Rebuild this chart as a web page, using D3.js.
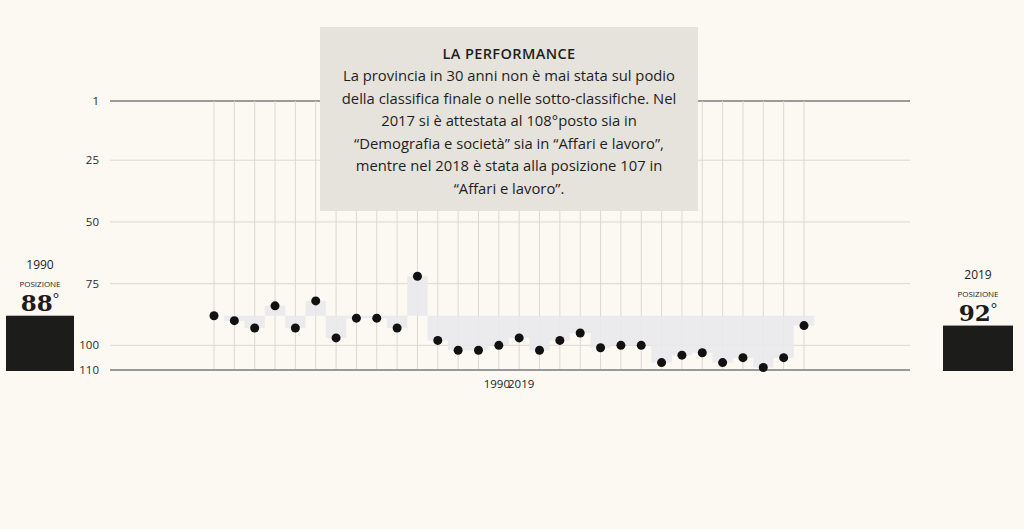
<!DOCTYPE html>
<html>
<head>
<meta charset="utf-8">
<script src="https://cdn.jsdelivr.net/npm/d3@7"></script>
<style>
  html, body { margin: 0; padding: 0; background: #fcf9f3; }
  svg { display: block; }
</style>
</head>
<body>
<div id="chart"></div>
<script>
const years = [1990, 1991, 1992, 1993, 1994, 1995, 1996, 1997, 1998, 1999,
               2000, 2001, 2002, 2003, 2004, 2005, 2006, 2007, 2008, 2009,
               2010, 2011, 2012, 2013, 2014, 2015, 2016, 2017, 2018, 2019];
const positions = [88, 90, 93, 84, 93, 82, 97, 89, 89, 93,
                   72, 98, 102, 102, 100, 97, 102, 98, 95, 101,
                   100, 100, 107, 104, 103, 107, 105, 109, 105, 92];
const yTicks = [1, 25, 50, 75, 100, 110];
const boxTitle = "LA PERFORMANCE";
const boxLines = [
    "La provincia in 30 anni non è mai stata sul podio",
    "della classifica finale o nelle sotto-classifiche. Nel",
    "2017 si è attestata al 108°posto sia in",
    "“Demografia e società” sia in “Affari e lavoro”,",
    "mentre nel 2018 è stata alla posizione 107 in",
    "“Affari e lavoro”."
];

const width = 1024, height = 529;
const sans = "'Open Sans', 'Noto Sans', sans-serif";

const svg = d3.select("#chart").append("svg")
    .attr("width", width)
    .attr("height", height);

const x = d3.scalePoint().domain(years).range([214, 804]);
const y = d3.scaleLinear().domain([1, 110]).range([101, 370]);
const step = x.step();

// horizontal grid
svg.append("g")
    .selectAll("line")
    .data(yTicks)
    .join("line")
    .attr("x1", 110)
    .attr("x2", 910)
    .attr("y1", d => y(d))
    .attr("y2", d => y(d))
    .attr("stroke", d => (d === 1 || d === 110) ? "#9a9a9a" : "#dcd8d0")
    .attr("stroke-width", d => (d === 1 || d === 110) ? 2 : 1);

// vertical grid
svg.append("g")
    .selectAll("line")
    .data(years)
    .join("line")
    .attr("x1", d => x(d))
    .attr("x2", d => x(d))
    .attr("y1", y(1))
    .attr("y2", y(110) - 1)
    .attr("stroke", "#dcd8d0")
    .attr("stroke-width", 1);

// y tick labels
svg.append("g")
    .selectAll("text")
    .data(yTicks)
    .join("text")
    .attr("x", 99)
    .attr("y", d => y(d))
    .attr("dy", "0.35em")
    .attr("text-anchor", "end")
    .attr("fill", "#2a2a2a")
    .style("font-family", sans)
    .style("font-size", "11.5px")
    .text(d => d);

// step area against the 1990 position
const base = positions[0];
const stepData = years.map((yr, i) => ({ x: x(yr) - step / 2, v: positions[i] }));
stepData.push({ x: x(years[years.length - 1]) + step / 2, v: positions[positions.length - 1] });

const area = d3.area()
    .curve(d3.curveStepAfter)
    .x(d => d.x)
    .y0(y(base))
    .y1(d => y(d.v));

svg.append("path")
    .datum(stepData)
    .attr("d", area)
    .attr("fill", "#e9e9ec")
    .attr("opacity", 0.9);

// dots
svg.append("g")
    .selectAll("circle")
    .data(years)
    .join("circle")
    .attr("cx", d => x(d))
    .attr("cy", (d, i) => y(positions[i]))
    .attr("r", 4.5)
    .attr("fill", "#111");

// x labels (collapsed on the middle, as in the original)
const mid = 510;
svg.append("text")
    .attr("x", mid)
    .attr("y", 388)
    .attr("text-anchor", "end")
    .attr("fill", "#222")
    .style("font-family", sans)
    .style("font-size", "11.5px")
    .text(years[0]);
svg.append("text")
    .attr("x", mid - 2)
    .attr("y", 388)
    .attr("text-anchor", "start")
    .attr("fill", "#222")
    .style("font-family", sans)
    .style("font-size", "11.5px")
    .text(years[years.length - 1]);

// side panels
function sidePanel(cx, x0, x1, yr, val, labelTop) {
    const g = svg.append("g");
    g.append("rect")
        .attr("x", x0)
        .attr("y", y(val))
        .attr("width", x1 - x0)
        .attr("height", y(110) + 1 - y(val))
        .attr("fill", "#1c1c1a");
    g.append("text")
        .attr("x", cx)
        .attr("y", labelTop)
        .attr("text-anchor", "middle")
        .attr("fill", "#222")
        .style("font-family", sans)
        .style("font-size", "12px")
        .text(yr);
    g.append("text")
        .attr("x", cx)
        .attr("y", labelTop + 18)
        .attr("text-anchor", "middle")
        .attr("fill", "#222")
        .style("font-family", sans)
        .style("font-size", "8px")
        .text("POSIZIONE");
    const t = g.append("text")
        .attr("x", cx)
        .attr("y", labelTop + 42)
        .attr("text-anchor", "middle")
        .attr("fill", "#1c1c1a")
        .style("font-family", "'DejaVu Serif', 'Liberation Serif', serif")
        .style("font-weight", "bold")
        .style("font-size", "23px")
        .text(val);
    t.append("tspan")
        .style("font-family", sans)
        .style("font-weight", "normal")
        .style("font-size", "15px")
        .attr("dy", "-0.45em")
        .text("°");
}
sidePanel(40, 6, 74, years[0], positions[0], 269);
sidePanel(978, 943, 1013, years[years.length - 1], positions[positions.length - 1], 279);

// text box
svg.append("rect")
    .attr("x", 320)
    .attr("y", 27)
    .attr("width", 378)
    .attr("height", 184)
    .attr("fill", "#e6e3dd");

svg.append("text")
    .attr("x", 509)
    .attr("y", 59)
    .attr("text-anchor", "middle")
    .attr("fill", "#1e1e1e")
    .style("font-family", sans)
    .style("font-size", "14.5px")
    .style("font-weight", 600)
    .style("letter-spacing", "0.4px")
    .text(boxTitle);

svg.append("g")
    .selectAll("text")
    .data(boxLines)
    .join("text")
    .attr("x", 509)
    .attr("y", (d, i) => 81 + i * 22.5)
    .attr("text-anchor", "middle")
    .attr("fill", "#1e1e1e")
    .style("font-family", sans)
    .style("font-size", "14.8px")
    .text(d => d);
</script>
</body>
</html>
